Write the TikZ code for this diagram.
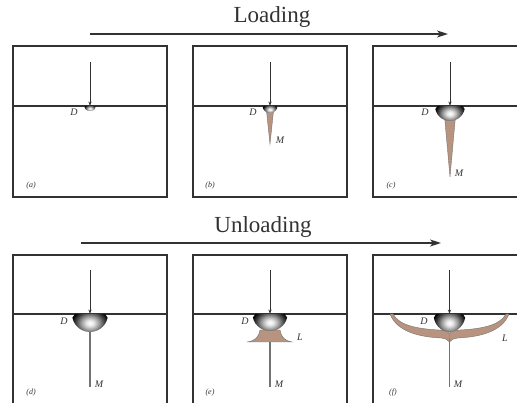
\documentclass[tikz,border=0pt]{standalone}
\usepackage{fontspec}
\setmainfont{Liberation Serif}
\usetikzlibrary{arrows.meta}
% shading of the spherical dimple left by the indenter
\pgfdeclareradialshading{dimple}{\pgfpoint{0bp}{0bp}}{%
  color(0bp)=(white); color(5bp)=(black!10); color(12bp)=(black!40);
  color(18bp)=(black!70); color(23bp)=(black!92); color(25bp)=(black); color(50bp)=(black)}
\definecolor{crackfill}{RGB}{184,148,128}
\definecolor{ink}{RGB}{50,50,50}
\tikzset{
  panel/.style={draw=ink, line width=1.3pt},
  surface/.style={draw=ink, line width=1.2pt},
  load/.style={draw=ink, line width=0.8pt, -{Stealth[length=4.5pt,width=3.2pt]}},
  stage/.style={draw=ink, line width=1.4pt, -{Stealth[length=11pt,width=7pt,inset=3pt]}},
  title/.style={font=\fontsize{23}{26}\selectfont, text=ink},
  tag/.style={font=\fontsize{10}{11}\selectfont\itshape, text=ink, inner sep=0pt},
  caption/.style={font=\fontsize{8}{9}\selectfont\itshape, text=ink, inner sep=0pt},
  crack/.style={fill=crackfill, draw=black!55, line width=0.4pt},
  median/.style={draw=black!55, line width=1.3pt},
}
% half-sphere dimple: centre x, surface y, half width, depth
\newcommand{\dimple}[4]{%
  \begin{scope}
    \clip (#1-#3,#2) arc[start angle=180,end angle=360,x radius=#3,y radius=-#4] -- cycle;
    \shade[shading=dimple] (#1,#2+0.5*#4) ellipse[x radius=1.05*#3, y radius=0.8*#4];
  \end{scope}}
\begin{document}
\begin{tikzpicture}[x=1pt,y=-1pt]
\useasboundingbox (0,0) rectangle (517,403);
\clip (0,0) rectangle (517,403);

% ---------- stage headings ----------
\node[title] (loadtitle) at (272,17) {Loading};
\coordinate (la) at (90,34);
\coordinate (lb) at (448,34);
\draw[stage] (la) -- (lb);

\node[title] (unloadtitle) at (263,227) {Unloading};
\coordinate (ua) at (81,243);
\coordinate (ub) at (441,243);
\draw[stage] (ua) -- (ub);

% ---------- frames and specimen surfaces ----------
\foreach \x in {13,193,373}{
  \draw[panel] (\x,46) rectangle ++(154,151);
  \draw[surface] (\x,106) -- ++(154,0);
  \draw[panel] (\x,255) rectangle ++(154,160);
  \draw[surface] (\x,314) -- ++(154,0);
}

% ---------- (a) ----------
\coordinate (a0) at (90,62);
\coordinate (a1) at (90,106);
\dimple{90}{106}{6}{5}
\draw[load] (a0) -- (a1);
\node[tag] (aD) at (74,112) {D};
\node[caption] (acap) at (31,186) {(a)};

% ---------- (b) ----------
\draw[crack] (266.5,111) -- (273.5,111) -- (270,144) -- cycle;
\dimple{270}{106}{7.5}{7}
\coordinate (b0) at (270,62);
\coordinate (b1) at (270,106);
\draw[load] (b0) -- (b1);
\node[tag] (bD) at (253,112) {D};
\node[tag] (bM) at (280,140) {M};
\node[caption] (bcap) at (210,186) {(b)};

% ---------- (c) ----------
\draw[crack] (444.5,116) -- (455.5,116) -- (450,177) -- cycle;
\dimple{450}{106}{15}{15}
\coordinate (c0) at (450,62);
\coordinate (c1) at (450,106);
\draw[load] (c0) -- (c1);
\node[tag] (cD) at (425,112) {D};
\node[tag] (cM) at (459,173) {M};
\node[caption] (ccap) at (391,186) {(c)};

% ---------- (d) ----------
\draw[median] (90,328) -- (90,387);
\dimple{90}{314}{18}{18}
\coordinate (d0) at (90,270);
\coordinate (d1) at (90,314);
\draw[load] (d0) -- (d1);
\node[tag] (dD) at (64,321) {D};
\node[tag] (dM) at (99,384) {M};
\node[caption] (dcap) at (31,393) {(d)};

% ---------- (e) ----------
\draw[median] (270,338) -- (270,387);
\draw[crack] (247,342) -- (292,342)
  .. controls (285,341) and (281,337) .. (280,330) -- (260,330)
  .. controls (259,337) and (255,341) .. (247,342) -- cycle;
\dimple{270}{314}{17.5}{17}
\coordinate (e0) at (270,270);
\coordinate (e1) at (270,314);
\draw[load] (e0) -- (e1);
\node[tag] (eD) at (245,321) {D};
\node[tag] (eL) at (300,337) {L};
\node[tag] (eM) at (279,384) {M};
\node[caption] (ecap) at (210,393) {(e)};

% ---------- (f) ----------
\draw[median] (449.5,338) -- (449.5,387);
\foreach \s/\o in {1/0, -1/899}{
  \begin{scope}[shift={(\o,0)}, xscale=\s]
    \draw[crack] (390,314)
      .. controls (397,332) and (420,337) .. (441,338)
      .. controls (445,338.5) and (448,339.5) .. (449.5,342)
      -- (449.5,333)
      .. controls (447,330.5) and (444,330) .. (439,330)
      .. controls (420,329) and (399,326) .. (393,314) -- cycle;
  \end{scope}
}
\dimple{449.5}{314}{16}{18}
\coordinate (f0) at (449.5,270);
\coordinate (f1) at (449.5,314);
\draw[load] (f0) -- (f1);
\node[tag] (fD) at (424,321) {D};
\node[tag] (fL) at (505,338) {L};
\node[tag] (fM) at (458,384) {M};
\node[caption] (fcap) at (393,393) {(f)};
\end{tikzpicture}
\end{document}
